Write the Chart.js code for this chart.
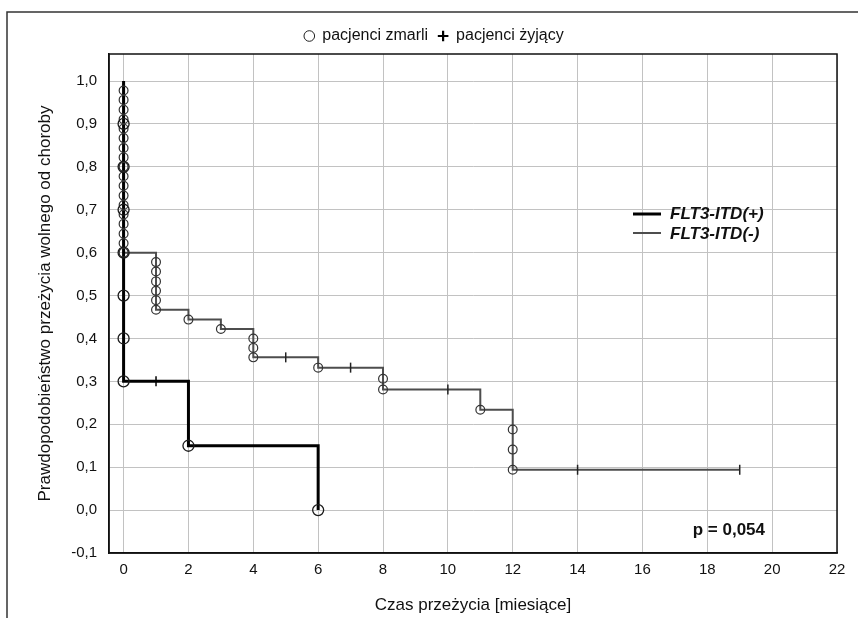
<!DOCTYPE html>
<html>
<head>
<meta charset="utf-8">
<script src="https://cdn.jsdelivr.net/npm/chart.js@4/dist/chart.umd.min.js"></script>
<style>
  html, body { margin: 0; padding: 0; background: #fff; }
</style>
</head>
<body>
<canvas id="km" width="858" height="618"></canvas>
<script>
// axis ticks
const xTicks = [0, 2, 4, 6, 8, 10, 12, 14, 16, 18, 20, 22];
const yTicks = [-0.1, 0, 0.1, 0.2, 0.3, 0.4, 0.5, 0.6, 0.7, 0.8, 0.9, 1.0];

// FLT3-ITD(+) : step curve, deaths, censored
const posTimes = [0, 0, 2, 6];
const posSurv = [1.0, 0.3, 0.15, 0.0];
const posDeathT = [0, 0, 0, 0, 0, 0, 0, 2, 6];
const posDeathS = [0.9, 0.8, 0.7, 0.6, 0.5, 0.4, 0.3, 0.15, 0.0];
const posCensT = [1];
const posCensS = [0.3];

// FLT3-ITD(-)
const negTimes = [0, 0, 1, 2, 3, 4, 6, 8, 11, 12, 19];
const negSurv = [1.0, 0.6, 0.467, 0.444, 0.422, 0.356, 0.332, 0.281, 0.234, 0.094, 0.094];
const negDeathT = [0, 0, 0, 0, 0, 0, 0, 0, 0, 0, 0, 0, 0, 0, 0, 0, 0, 0,
                   1, 1, 1, 1, 1, 1, 2, 3, 4, 4, 4, 6, 8, 8, 11, 12, 12, 12];
const negDeathS = [0.978, 0.956, 0.933, 0.911, 0.889, 0.867, 0.844, 0.822, 0.8, 0.778, 0.756, 0.733,
                   0.711, 0.689, 0.667, 0.644, 0.622, 0.6,
                   0.578, 0.556, 0.533, 0.511, 0.489, 0.467, 0.444, 0.422, 0.4, 0.378, 0.356,
                   0.332, 0.306, 0.281, 0.234, 0.188, 0.141, 0.094];
const negCensT = [5, 7, 10, 14, 19];
const negCensS = [0.356, 0.332, 0.281, 0.094, 0.094];

const legendLabels = ["pacjenci zmarli", "pacjenci żyjący"];
const groupLabels = ["FLT3-ITD(+)", "FLT3-ITD(-)"];
const pValue = "p = 0,054";

const FONT = '"Liberation Sans", Arial, sans-serif';
Chart.defaults.font.family = FONT;
Chart.defaults.color = "#111";

function pts(xs, ys) {
  return xs.map((x, i) => ({ x: x, y: ys[i] }));
}

const extras = {
  id: "extras",
  beforeDraw(chart) {
    const c = chart.ctx;
    c.save();
    c.fillStyle = "#fff";
    c.fillRect(0, 0, chart.width, chart.height);
    c.strokeStyle = "#333";
    c.lineWidth = 1.5;
    c.beginPath();
    c.moveTo(7, chart.height);
    c.lineTo(7, 12);
    c.lineTo(chart.width, 12);
    c.stroke();
    c.restore();
  },
  afterDraw(chart) {
    const c = chart.ctx;
    const a = chart.chartArea;
    c.save();
    c.strokeStyle = "#111";
    c.lineWidth = 1.5;
    c.strokeRect(a.left, a.top, a.right - a.left, a.bottom - a.top);

    // group legend
    c.lineWidth = 3;
    c.strokeStyle = "#000";
    c.beginPath(); c.moveTo(633, 214); c.lineTo(661, 214); c.stroke();
    c.lineWidth = 2;
    c.strokeStyle = "#4d4d4d";
    c.beginPath(); c.moveTo(633, 233); c.lineTo(661, 233); c.stroke();
    c.fillStyle = "#111";
    c.font = "italic bold 17px " + FONT;
    c.textBaseline = "middle";
    c.textAlign = "left";
    c.fillText(groupLabels[0], 670, 214);
    c.fillText(groupLabels[1], 670, 234);

    c.font = "bold 17px " + FONT;
    c.textAlign = "right";
    c.fillText(pValue, 765, 530);
    c.restore();
  }
};

new Chart(document.getElementById("km"), {
  type: "scatter",
  data: {
    datasets: [
      {
        label: groupLabels[0],
        data: pts(posTimes, posSurv),
        showLine: true,
        stepped: true,
        borderColor: "#000",
        borderWidth: 3,
        pointRadius: 0,
        order: 1
      },
      {
        label: groupLabels[1],
        data: pts(negTimes, negSurv),
        showLine: true,
        stepped: true,
        borderColor: "#4d4d4d",
        borderWidth: 2,
        pointRadius: 0,
        order: 2
      },
      {
        label: "zmarli +",
        data: pts(posDeathT, posDeathS),
        pointStyle: "circle",
        pointRadius: 5.5,
        borderColor: "#1a1a1a",
        borderWidth: 1.3,
        backgroundColor: "rgba(255,255,255,0)",
        order: 0
      },
      {
        label: "zmarli -",
        data: pts(negDeathT, negDeathS),
        pointStyle: "circle",
        pointRadius: 4.4,
        borderColor: "#333",
        borderWidth: 1.2,
        backgroundColor: "rgba(255,255,255,0)",
        order: 0
      },
      {
        label: "żyjący +",
        data: pts(posCensT, posCensS),
        pointStyle: "line",
        rotation: 90,
        pointRadius: 5,
        borderColor: "#000",
        borderWidth: 1.5,
        order: 0
      },
      {
        label: "żyjący -",
        data: pts(negCensT, negCensS),
        pointStyle: "line",
        rotation: 90,
        pointRadius: 5,
        borderColor: "#222",
        borderWidth: 1.5,
        order: 0
      }
    ]
  },
  options: {
    responsive: false,
    animation: false,
    devicePixelRatio: 1,
    layout: { padding: { top: 18, right: 21, left: 31, bottom: 0 } },
    plugins: {
      tooltip: { enabled: false },
      legend: {
        display: true,
        position: "top",
        labels: {
          usePointStyle: true,
          boxWidth: 10,
          boxHeight: 7.5,
          padding: 10,
          color: "#111",
          font: { size: 16 },
          generateLabels: () => [
            { text: legendLabels[0], pointStyle: "circle", fillStyle: "rgba(255,255,255,0)", strokeStyle: "#222", lineWidth: 1, fontColor: "#111" },
            { text: legendLabels[1], pointStyle: "cross", fillStyle: "#000", strokeStyle: "#000", lineWidth: 2.2, fontColor: "#111" }
          ]
        }
      }
    },
    scales: {
      x: {
        type: "linear",
        min: -0.45,
        max: 22,
        afterBuildTicks: (s) => { s.ticks = xTicks.map(v => ({ value: v })); },
        afterFit: (s) => { s.height = 65; },
        ticks: { font: { size: 15 }, color: "#111", padding: 8, maxRotation: 0, autoSkip: false },
        grid: { color: "#c2c2c2", lineWidth: 1, drawTicks: false },
        border: { color: "#111", width: 1.5 },
        title: {
          display: true,
          text: "Czas przeżycia [miesiące]",
          font: { size: 17 },
          color: "#111",
          padding: { top: 0, bottom: 2 }
        }
      },
      y: {
        type: "linear",
        min: -0.1,
        max: 1.063,
        afterBuildTicks: (s) => { s.ticks = yTicks.map(v => ({ value: v })); },
        afterFit: (s) => { s.width = 78; },
        ticks: {
          font: { size: 15 },
          color: "#111",
          padding: 12,
          callback: (v) => v.toFixed(1).replace(".", ",")
        },
        grid: { color: "#c2c2c2", lineWidth: 1, drawTicks: false },
        border: { color: "#111", width: 1.5 },
        title: {
          display: true,
          text: "Prawdopodobieństwo przeżycia wolnego od choroby",
          font: { size: 17 },
          color: "#111",
          padding: { top: 4, bottom: 0 }
        }
      }
    }
  },
  plugins: [extras]
});
</script>
</body>
</html>
